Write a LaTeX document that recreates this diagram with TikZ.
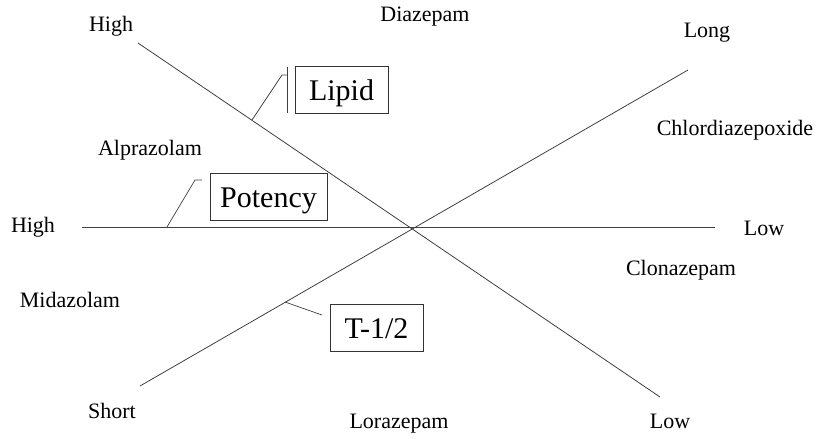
\documentclass[tikz,border=0pt]{standalone}
\usepackage{fontspec}
\setmainfont{Liberation Serif}
\tikzset{
  axis/.style={draw=black!75, line width=0.8pt},
  lead/.style={draw=black!75, line width=0.7pt},
  tag/.style={font=\fontsize{22}{25}\selectfont, text=black, inner sep=0pt},
  keybox/.style={draw=black!80, line width=0.8pt, font=\fontsize{30}{33}\selectfont,
    minimum height=47pt, inner sep=0pt, text height=20pt, text depth=0pt, text=black},
}
\begin{document}
\begin{tikzpicture}[x=1pt, y=-1pt]
  \useasboundingbox (0,0) rectangle (820,439);

  % axis end points
  \coordinate (lipA) at (138,43);
  \coordinate (lipB) at (660,397);
  \coordinate (halfA) at (140,386);
  \coordinate (halfB) at (688,70);
  \coordinate (potA) at (82,227);
  \coordinate (potB) at (715,227);

  % the three crossing axes
  \draw[axis] (lipA) -- (lipB);
  \draw[axis] (halfA) -- (halfB);
  \draw[axis] (potA) -- (potB);

  % axis end labels
  \node[tag] (lipHigh) at (111,26) {High};
  \node[tag] (lipLow) at (670,421) {Low};
  \node[tag] (halfLong) at (707,33) {Long};
  \node[tag] (halfShort) at (112,411) {Short};
  \node[tag] (potHigh) at (33,227) {High};
  \node[tag] (potLow) at (764,228) {Low};

  % drugs
  \node[tag] (diaz) at (425,17) {Diazepam};
  \node[tag] (alpra) at (150,150) {Alprazolam};
  \node[tag] (chlor) at (735,130) {Chlordiazepoxide};
  \node[tag] (clona) at (681,270) {Clonazepam};
  \node[tag] (mida) at (70,300) {Midazolam};
  \node[tag] (lora) at (399,424) {Lorazepam};

  % axis name boxes
  \node[keybox, minimum width=93pt] (lipid) at (341.5,90) {Lipid};
  \node[keybox, minimum width=117pt] (potency) at (268.5,197) {Potency};
  \node[keybox, minimum width=93pt] (half) at (376.5,328) {T-1/2};

  % leader lines from the axes to their boxes
  \coordinate (lipFoot) at (252,120);
  \coordinate (lipKnee) at (282,75);
  \coordinate (lipBarTop) at (287,67);
  \coordinate (lipBarBot) at (287,113);
  \draw[lead] (lipFoot) -- (lipKnee) -- (lipKnee -| lipBarTop);
  \draw[lead] (lipBarTop) -- (lipBarBot);

  \coordinate (potFoot) at (167,227);
  \coordinate (potKnee) at (195,180);
  \draw[lead] (potFoot) -- (potKnee) -- (202,180);

  \coordinate (halfFoot) at (285,302);
  \coordinate (halfEnd) at (322,315);
  \draw[lead] (halfFoot) -- (halfEnd);
\end{tikzpicture}
\end{document}
